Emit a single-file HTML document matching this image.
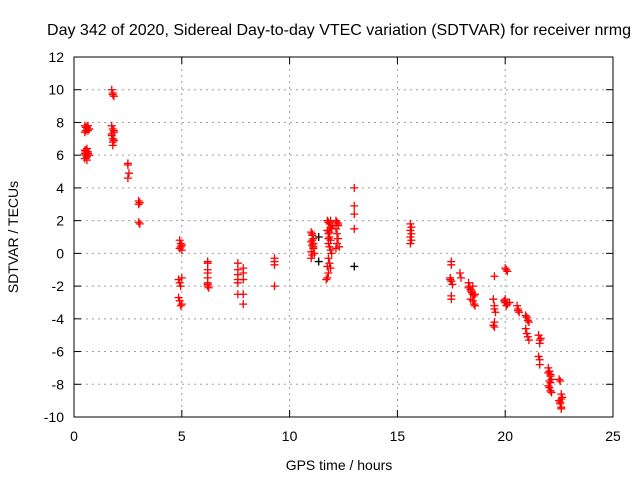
<!DOCTYPE html>
<html><head><meta charset="utf-8"><style>
body{margin:0;background:#fff;}
svg text{font-family:"Liberation Sans",sans-serif;font-size:14px;fill:#000;}
</style></head><body>
<svg id="chart" width="640" height="480" xmlns="http://www.w3.org/2000/svg">
<rect width="640" height="480" fill="#fff"/>
<text x="339" y="35" text-anchor="middle" style="font-size:16px">Day 342 of 2020, Sidereal Day-to-day VTEC variation (SDTVAR) for receiver nrmg</text>
<g id="grid"></g>
<g id="ticks"></g>
<g id="marks"></g>
<rect x="74" y="57" width="539" height="360" fill="none" stroke="#000" stroke-width="1"/>
<text x="339" y="470" text-anchor="middle">GPS time / hours</text>
<text transform="translate(18,237) rotate(-90)" text-anchor="middle">SDTVAR / TECUs</text>
</svg>
<script>
const xTicks=[0,5,10,15,20,25];
const yTicks=[12,10,8,6,4,2,0,-2,-4,-6,-8,-10];
const times=[0.5,0.55,0.6,0.65,0.7,0.5,0.55,0.6,0.65,0.7,0.5,0.6,0.65,0.55,0.6,0.5,0.55,0.6,0.65,0.7,0.5,0.6,0.55,
1.75,1.8,1.85,1.75,1.8,1.85,1.75,1.8,1.85,1.8,1.75,1.85,1.8,1.8,
2.5,2.5,2.55,2.5,3.0,3.05,3.0,3.0,3.05,
4.9,4.95,5.0,4.9,5.0,4.95,4.85,4.9,5.0,4.95,4.85,4.9,5.0,4.95,
6.2,6.2,6.2,6.2,6.2,6.2,6.2,6.25,6.2,
7.6,7.6,7.6,7.6,7.6,7.6,7.85,7.85,7.85,7.85,7.85,
9.3,9.3,9.3,9.3,
11.0,11.05,11.1,11.0,11.05,11.1,11.0,11.05,11.1,11.0,11.05,11.15,11.1,11.05,
11.75,11.8,11.85,11.9,11.75,11.8,11.85,11.9,11.8,11.85,11.9,11.95,11.8,11.85,11.9,11.8,11.75,11.7,11.75,11.8,11.85,11.9,12.0,11.95,
12.15,12.2,12.25,12.15,12.2,12.25,12.2,12.15,12.25,12.3,
13.0,13.0,13.0,13.0,
15.6,15.65,15.6,15.65,15.6,15.65,15.6,
17.5,17.5,17.45,17.5,17.55,17.45,17.5,17.5,17.9,17.95,
18.3,18.35,18.4,18.45,18.5,18.55,18.4,18.5,18.55,18.6,18.3,18.4,18.5,18.6,
19.5,19.45,19.5,19.5,19.55,19.5,19.45,19.5,
20.0,20.05,20.1,19.95,20.0,20.05,20.1,20.2,20.0,
20.55,20.6,20.65,20.6,
20.95,21.0,21.05,21.1,20.95,21.0,21.05,21.1,
21.55,21.6,21.6,21.65,21.55,21.6,21.6,
22.0,22.05,22.1,22.15,22.1,22.0,22.05,22.1,22.15,22.1,22.05,22.0,
22.5,22.55,22.6,22.65,22.5,22.55,22.6,22.6,22.55,22.6];
const values=[7.8,7.7,7.6,7.5,7.6,7.4,7.5,7.7,7.8,7.6,6.3,6.2,6.1,6.0,5.9,6.1,6.3,6.4,6.2,6.0,5.8,5.7,6.2,
10.0,9.8,9.6,7.8,7.6,7.4,7.2,7.0,6.9,6.8,7.3,7.5,6.6,9.7,
5.5,5.4,4.9,4.6,3.2,3.1,3.0,1.9,1.8,
0.8,0.6,0.5,0.3,0.2,0.4,-1.6,-1.8,-1.5,-2.0,-2.7,-2.9,-3.1,-3.2,
-0.5,-0.6,-1.0,-1.2,-1.5,-1.8,-2.0,-2.1,-1.9,
-0.6,-1.0,-1.3,-1.6,-2.5,-1.8,-0.9,-1.2,-1.6,-2.5,-3.1,
-0.3,-0.5,-0.7,-2.0,
1.3,1.1,0.9,0.7,0.5,0.3,0.1,-0.1,0.6,-0.3,1.2,0.0,0.4,0.8,
2.0,1.9,1.8,1.6,1.4,1.2,1.0,0.8,0.6,0.4,0.2,0.0,-0.3,-0.6,-0.9,-1.2,-1.5,-1.6,-0.8,0.9,1.3,2.0,1.7,1.5,
2.0,1.9,1.7,1.5,1.2,0.9,0.6,0.3,1.8,0.4,
4.0,2.9,2.4,1.5,
1.8,1.6,1.4,1.2,1.0,0.8,0.6,
-0.5,-0.7,-1.5,-1.7,-1.9,-1.6,-2.6,-2.8,-1.2,-1.5,
-1.8,-2.0,-2.2,-2.4,-2.5,-2.6,-2.8,-2.9,-3.1,-3.2,-2.1,-2.3,-2.0,-2.5,
-1.4,-2.8,-3.2,-3.4,-3.6,-4.2,-4.4,-4.5,
-0.9,-1.0,-1.1,-2.9,-3.0,-3.2,-3.1,-3.0,-2.8,
-3.2,-3.4,-3.6,-3.5,
-3.8,-3.9,-4.1,-4.2,-4.6,-4.9,-5.1,-5.3,
-5.0,-5.3,-5.5,-5.2,-6.3,-6.5,-6.8,
-7.0,-7.2,-7.5,-7.7,-7.9,-8.1,-8.2,-8.4,-8.5,-7.4,-7.8,-7.3,
-7.7,-7.8,-8.6,-8.8,-9.0,-9.2,-9.4,-9.5,-9.1,-8.9];
const blackTimes=[11.35,11.35,13.0];
const blackValues=[1.0,-0.5,-0.8];
const NS='http://www.w3.org/2000/svg';
const X=t=>74+t*539/25;
const Y=v=>57+(12-v)*360/22;
const grid=document.getElementById('grid'),ticks=document.getElementById('ticks'),marks=document.getElementById('marks');
function mk(tag,attrs,parent){const e=document.createElementNS(NS,tag);for(const k in attrs)e.setAttribute(k,attrs[k]);parent.appendChild(e);return e;}
xTicks.forEach(t=>{const x=X(t);
 if(t>0&&t<25){const g=mk('line',{x1:x,x2:x,y1:57,y2:417,stroke:'#a0a0a0','stroke-dasharray':'2,4'},grid);
 
 }
 mk('line',{x1:x,x2:x,y1:417,y2:410,stroke:'#000'},ticks);mk('line',{x1:x,x2:x,y1:57,y2:64,stroke:'#000'},ticks);
 const l=mk('text',{x:x,y:441,'text-anchor':'middle'},ticks);l.textContent=t;
 
 });
yTicks.forEach(v=>{const y=Y(v);
 if(v<12&&v>-10){const g=mk('line',{x1:74,x2:613,y1:y,y2:y,stroke:'#a0a0a0','stroke-dasharray':'2,4'},grid);
 
 }
 mk('line',{x1:74,x2:81,y1:y,y2:y,stroke:'#000'},ticks);mk('line',{x1:613,x2:606,y1:y,y2:y,stroke:'#000'},ticks);
 const l=mk('text',{x:64,y:y+5,'text-anchor':'end'},ticks);l.textContent=v;
 
 });
function plus(t,v,c){const x=X(t),y=Y(v);
 const p=mk('path',{d:`M${x-4} ${y}H${x+4}M${x} ${y-4}V${y+4}`,stroke:c,'stroke-width':1.3,fill:'none'},marks);
 
 }
blackTimes.forEach((t,i)=>plus(t,blackValues[i],'#000'));
times.forEach((t,i)=>plus(t,values[i],'#ff0000'));
</script>
</body></html>
